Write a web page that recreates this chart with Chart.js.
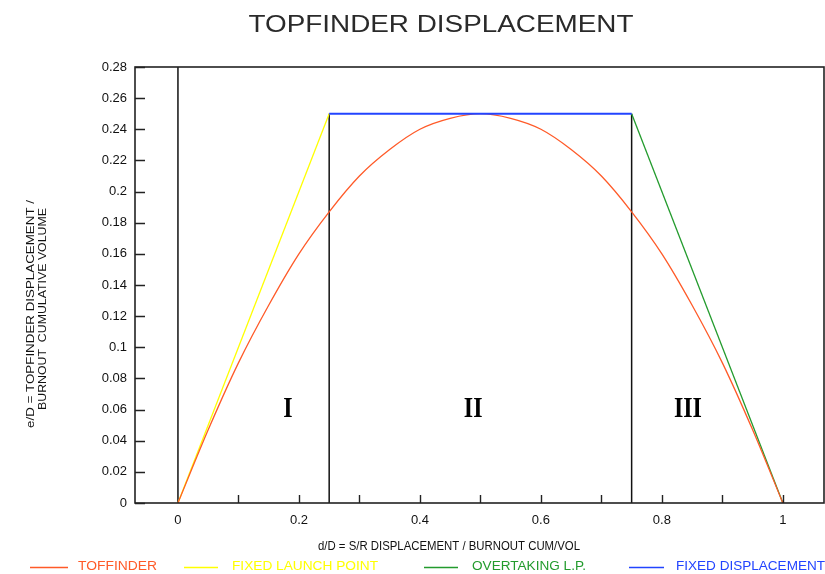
<!DOCTYPE html>
<html><head><meta charset="utf-8">
<script src="https://cdn.jsdelivr.net/npm/chart.js@4/dist/chart.umd.min.js"></script>
<style>html,body{margin:0;padding:0;background:#fff}#wrap{width:825px;height:574px;position:relative}</style>
</head><body><div id="wrap"><canvas id="c" width="825" height="574"></canvas></div>
<script>
// ---- data ----
const toffinderX = [0, 0.05, 0.1, 0.15, 0.2, 0.25, 0.3, 0.35, 0.4, 0.45, 0.5, 0.55, 0.6, 0.65, 0.7, 0.75, 0.8, 0.85, 0.9, 0.95, 1];
const toffinderY = [0, 0.047, 0.09, 0.127, 0.16, 0.187, 0.21, 0.227, 0.24, 0.247, 0.25, 0.247, 0.24, 0.227, 0.21, 0.187, 0.16, 0.127, 0.09, 0.047, 0];
const launchX = [0, 0.25];
const launchY = [0, 0.25];
const overtakeX = [0.75, 1];
const overtakeY = [0.25, 0];
const fixedX = [0.25, 0.75];
const fixedY = [0.25, 0.25];
const boundaryX = [0, 0.25, 0.75];
const boundaryTop = [0.28, 0.25, 0.25];
const xTickValues = [0, 0.2, 0.4, 0.6, 0.8, 1];
const xMarkValues = [0.1, 0.2, 0.3, 0.4, 0.5, 0.6, 0.7, 0.8, 0.9, 1];
const yTickValues = [0, 0.02, 0.04, 0.06, 0.08, 0.1, 0.12, 0.14, 0.16, 0.18, 0.2, 0.22, 0.24, 0.26, 0.28];
const zoneLabels = ['I', 'II', 'III'];
const zoneX = [0.182, 0.488, 0.843];
const zoneY = [0.06, 0.06, 0.06];
const seriesNames = ['TOFFINDER', 'FIXED LAUNCH POINT', 'OVERTAKING L.P.', 'FIXED DISPLACEMENT'];
const seriesColors = ['#ff5a28', '#ffff00', '#239b2d', '#2244ff'];
const chartTitle = 'TOPFINDER DISPLACEMENT';
const xTitle = 'd/D = S/R DISPLACEMENT / BURNOUT CUM/VOL';
const yTitle = ['e/D = TOPFINDER DISPLACEMENT /', 'BURNOUT  CUMULATIVE VOLUME'];

const pts = (xs, ys) => xs.map((x, i) => ({x, y: ys[i]}));
const datasets = [];
boundaryX.forEach((bx, i) => datasets.push({
  data: [{x: bx, y: 0}, {x: bx, y: boundaryTop[i]}],
  borderColor: '#111', borderWidth: 1.5, order: 5
}));
datasets.push({data: pts(launchX, launchY), borderColor: seriesColors[1], borderWidth: 1.3, order: 3});
datasets.push({data: pts(overtakeX, overtakeY), borderColor: seriesColors[2], borderWidth: 1.3, order: 2});
datasets.push({data: pts(toffinderX, toffinderY), borderColor: seriesColors[0], borderWidth: 1.3, order: 1, cubicInterpolationMode: 'monotone'});
datasets.push({data: pts(fixedX, fixedY), borderColor: seriesColors[3], borderWidth: 2, order: 0});
datasets.forEach(d => { d.showLine = true; d.pointRadius = 0; d.fill = false; });

function fitText(ctx, text, x, y, targetW, align) {
  const w = ctx.measureText(text).width;
  const s = targetW / w;
  ctx.save();
  ctx.translate(x, y);
  ctx.scale(s, 1);
  ctx.textAlign = align || 'left';
  ctx.fillText(text, 0, 0);
  ctx.restore();
}

const decor = {
  id: 'decor',
  afterDatasetsDraw(chart) {
    const {ctx, chartArea: a, scales: {x, y}} = chart;
    ctx.save();
    // frame
    ctx.strokeStyle = '#222'; ctx.lineWidth = 1.6;
    ctx.strokeRect(a.left, a.top, a.right - a.left, a.bottom - a.top);
    // inward ticks
    ctx.lineWidth = 1.4;
    ctx.beginPath();
    yTickValues.forEach(v => {
      const py = Math.round(y.getPixelForValue(v)) + 0.5;
      ctx.moveTo(a.left, py); ctx.lineTo(a.left + 10, py);
    });
    xMarkValues.forEach(v => {
      const px = Math.round(x.getPixelForValue(v)) + 0.5;
      ctx.moveTo(px, a.bottom); ctx.lineTo(px, a.bottom - 8);
    });
    ctx.stroke();
    // zone numerals
    ctx.fillStyle = '#000';
    ctx.font = 'bold 30px "Liberation Serif"';
    ctx.textBaseline = 'middle';
    zoneLabels.forEach((t, i) => {
      const px = x.getPixelForValue(zoneX[i]);
      const py = y.getPixelForValue(zoneY[i]);
      ctx.save(); ctx.translate(px, py); ctx.scale(0.8, 1);
      ctx.textAlign = 'center'; ctx.fillText(t, 0, 0); ctx.restore();
    });
    ctx.restore();
  },
  afterDraw(chart) {
    const {ctx} = chart;
    ctx.save();
    // title
    ctx.fillStyle = '#2a2a2a';
    ctx.font = '24px "Liberation Sans"';
    ctx.textBaseline = 'alphabetic';
    fitText(ctx, chartTitle, 441, 32, 385, 'center');
    // x title
    ctx.fillStyle = '#111';
    ctx.font = '12px "Liberation Sans"';
    ctx.textBaseline = 'middle';
    fitText(ctx, xTitle, 449, 547, 262, 'center');
    // y title
    ctx.font = '11.5px "Liberation Sans"';
    ctx.save();
    ctx.translate(31, 314); ctx.rotate(-Math.PI / 2);
    fitText(ctx, yTitle[0], 0, 0, 228, 'center');
    ctx.restore();
    ctx.save();
    ctx.translate(43, 309); ctx.rotate(-Math.PI / 2);
    fitText(ctx, yTitle[1], 0, 0, 202, 'center');
    ctx.restore();
    // legend
    const legLine = [[30, 68], [184, 218], [424, 458], [629, 664]];
    const legText = [[78, 79], [232, 146], [472, 114], [676, 149]];
    ctx.font = '12px "Liberation Sans"';
    ctx.lineWidth = 1.5;
    seriesNames.forEach((n, i) => {
      ctx.strokeStyle = seriesColors[i];
      ctx.beginPath(); ctx.moveTo(legLine[i][0], 567.5); ctx.lineTo(legLine[i][1], 567.5); ctx.stroke();
      ctx.fillStyle = seriesColors[i];
      fitText(ctx, n, legText[i][0], 567, legText[i][1], 'left');
    });
    ctx.restore();
  }
};

new Chart(document.getElementById('c'), {
  type: 'scatter',
  data: {datasets},
  options: {
    responsive: false, animation: false, devicePixelRatio: 1,
    layout: {padding: {top: 67, right: 1, left: 0, bottom: 0}},
    plugins: {legend: {display: false}, title: {display: false}, tooltip: {enabled: false}},
    elements: {line: {tension: 0}},
    scales: {
      x: {
        type: 'linear', min: -0.071, max: 1.068,
        afterBuildTicks: s => { s.ticks = xTickValues.map(v => ({value: v})); },
        afterFit: s => { s.height = 71; },
        grid: {display: false, drawTicks: false}, border: {display: false},
        ticks: {padding: 10, color: '#111', font: {family: 'Liberation Sans', size: 13}, maxRotation: 0,
          callback: v => String(Number(v.toFixed(2)))}
      },
      y: {
        type: 'linear', min: 0, max: 0.28,
        afterBuildTicks: s => { s.ticks = yTickValues.map(v => ({value: v})); },
        afterFit: s => { s.width = 135; },
        grid: {display: false, drawTicks: false}, border: {display: false},
        ticks: {padding: 8, color: '#111', font: {family: 'Liberation Sans', size: 13},
          callback: v => String(Number(v.toFixed(2)))}
      }
    }
  },
  plugins: [decor]
});
</script></body></html>
